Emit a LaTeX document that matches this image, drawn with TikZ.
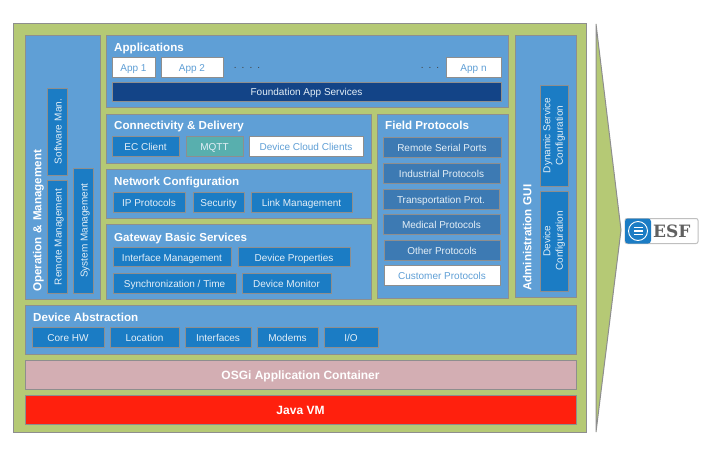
\documentclass[tikz,border=0pt]{standalone}
\usepackage{fontspec}
\setmainfont{Liberation Sans}
\newfontfamily\logofont{DejaVu Serif}
\usetikzlibrary{arrows.meta,positioning}
\definecolor{frameGreen}{HTML}{B5C975}
\definecolor{panelBlue}{HTML}{5F9FD6}
\definecolor{blockBlue}{HTML}{1B7CC4}
\definecolor{fieldBlue}{HTML}{3D7AB3}
\definecolor{darkBlue}{HTML}{134487}
\definecolor{mqttTeal}{HTML}{58AFAE}
\definecolor{osgiPink}{HTML}{D3AEB3}
\definecolor{javaRed}{HTML}{FF200D}
\definecolor{edgeGray}{HTML}{8E8E8E}
\definecolor{labelWhite}{HTML}{E4EFF7}
\tikzset{
    size/.style 2 args = {
        minimum width=#1pt,
        minimum height=#2pt,
        inner sep=0pt,
        outer sep=0pt,
        },
    frame/.style = {
        draw=edgeGray,
        fill=frameGreen,
        line width=1pt,
        },
    panel/.style = {
        draw=edgeGray,
        fill=panelBlue,
        line width=0.8pt,
        anchor=north west,
        },
    title/.style = {
        text=white,
        font=\fontsize{11.6}{13}\selectfont\bfseries,
        inner sep=0pt,
        anchor=west,
        text height=9.5pt,
        text depth=0pt,
        },
    tallblock/.style = {
        draw=edgeGray,
        fill=blockBlue,
        text=labelWhite,
        line width=0.8pt,
        font=\fontsize{10}{12.5}\selectfont,
        align=center,
        },
    block/.style = {
        tallblock,
        text height=9pt,
        text depth=0pt,
        },
    place/.style = {
        block,
        anchor=north west,
        },
    fieldblock/.style = {
        place,
        fill=fieldBlue,
        },
    appblock/.style = {
        place,
        fill=white,
        text=panelBlue,
        },
    bar/.style = {
        place,
        text=white,
        text height=9.5pt,
        font=\fontsize{12}{14}\selectfont\bfseries,
        },
    dots/.style = {
        text=black!75,
        font=\fontsize{10}{12}\selectfont,
        },
}
\begin{document}
\begin{tikzpicture}[x=1pt,y=-1pt]
    \useasboundingbox (0,0) rectangle (708,454);

    \node[frame, size={573}{408}, anchor=north west] (frame) at (13,24) {};
    \path[draw=edgeGray, fill=frameGreen, line width=1pt] (596,24) coordinate (tiptop) -- (621,230) coordinate (tip) -- (596,432) coordinate (tipbottom) -- cycle;

    % operation and management
    \node[panel, size={75}{264}] (operation) at (25,35) {};
    \node[title, rotate=90] (operationtitle) at (36.5,292) {Operation\,\,\&\,\,Management};
    \node[block, size={87}{20}, rotate=90] (software) at (57,131.5) {Software\,\,Man.};
    \node[block, size={113}{20}, rotate=90] (remote) at (57,237) {Remote Management};
    \node[block, size={125}{20}, rotate=90] (system) at (83,230.5) {System Management};

    % applications
    \node[panel, size={402}{72}] (applications) at (106,35) {};
    \node[title] (applicationstitle) at (114,47) {Applications};
    \node[appblock, size={43}{20}] (app1) at (112,57) {App 1};
    \node[appblock, size={62}{20}] (app2) at (161,57) {App 2};
    \node[appblock, size={55}{20}] (appn) at (446,57) {App n};
    \node[dots] (dotsleft) at (247,67.5) {.\,\,\,.\,\,\,.\,\,\,.};
    \node[dots] (dotsright) at (430,67.5) {.\,\,\,.\,\,\,.};
    \node[place, fill=darkBlue, size={389}{19}] (foundation) at (112,82) {Foundation App Services};

    % connectivity
    \node[panel, size={265}{49}] (connectivity) at (106,114) {};
    \node[title] (connectivitytitle) at (114,125) {Connectivity \& Delivery};
    \node[place, size={67}{20}] (ecclient) at (112,136) {EC Client};
    \node[place, fill=mqttTeal, size={57}{20}] (mqtt) at (186,136) {MQTT};
    \node[appblock, size={114}{20}] (cloud) at (249,136) {Device Cloud Clients};

    % network
    \node[panel, size={265}{49}] (network) at (106,169) {};
    \node[title] (networktitle) at (114,181) {Network Configuration};
    \node[place, size={72}{20}] (ip) at (113,192) {IP Protocols};
    \node[place, size={51}{20}] (security) at (193,192) {Security};
    \node[place, size={101}{20}] (link) at (251,192) {Link Management};

    % gateway
    \node[panel, size={265}{75}] (gateway) at (106,224) {};
    \node[title] (gatewaytitle) at (114,237) {Gateway Basic Services};
    \node[place, size={118}{19}] (interface) at (113,247) {Interface Management};
    \node[place, size={112}{19}] (properties) at (238,247) {Device Properties};
    \node[place, size={123}{20}] (sync) at (113,273) {Synchronization / Time};
    \node[place, size={89}{20}] (monitor) at (242,273) {Device Monitor};

    % field protocols
    \node[panel, size={131}{184}] (field) at (377,114.5) {};
    \node[title] (fieldtitle) at (385,125) {Field Protocols};
    \node[fieldblock, size={118}{20}] (serial) at (383,137) {Remote Serial Ports};
    \node[fieldblock, size={117}{20}] (industrial) at (383,163) {Industrial Protocols};
    \node[fieldblock, size={116}{20}] (transport) at (383,189) {Transportation Prot.};
    \node[fieldblock, size={117}{20}] (medical) at (383,214) {Medical Protocols};
    \node[fieldblock, size={116}{20}] (other) at (384,240) {Other Protocols};
    \node[appblock, size={116}{20}] (customer) at (384,265) {Customer Protocols};

    % administration
    \node[panel, size={61}{262}] (admin) at (515,35) {};
    \node[title, rotate=90] (admintitle) at (526.5,291) {Administration\,\,GUI};
    \node[tallblock, size={101}{28}, rotate=90] (dynamic) at (554,135.5) {Dynamic Service\\Configuration};
    \node[tallblock, size={100}{28}, rotate=90] (devconfig) at (554,241) {Device\\Configuration};

    % device abstraction
    \node[panel, size={551}{49}] (abstraction) at (25,305) {};
    \node[title] (abstractiontitle) at (33,317) {Device Abstraction};
    \node[place, size={72}{20}] (core) at (32,327) {Core HW};
    \node[place, size={69}{20}] (location) at (110,327) {Location};
    \node[place, size={66}{20}] (interfaces) at (185,327) {Interfaces};
    \node[place, size={61}{20}] (modems) at (257,327) {Modems};
    \node[place, size={54}{20}] (io) at (324,327) {I/O};

    % bottom bars
    \node[bar, fill=osgiPink, size={551}{29}] (osgi) at (25,360) {OSGi Application Container};
    \node[bar, fill=javaRed, size={551}{29}] (java) at (25,395) {Java VM};

    % logo
    \node[draw=black!25, fill=white, rounded corners=2pt, line width=1pt, size={73}{25}, anchor=north west] (logo) at (625,218.5) {};
    \node[fill=blockBlue, rounded corners=3pt, size={26}{25}, anchor=west] (logoblue) at (logo.west) {};
    \node[draw=white, fill=none, circle, line width=0.9pt, size={19}{19}] (logoring) at (logoblue.center) {};
    \node[fill=white, size={9}{1.3}] (logobar1) at ([yshift=-3.5pt]logoring.center) {};
    \node[fill=white, size={9}{1.3}] (logobar2) at (logoring.center) {};
    \node[fill=white, size={9}{1.3}] (logobar3) at ([yshift=3.5pt]logoring.center) {};
    \node[text=black!62, font=\logofont\fontsize{17}{17}\selectfont\bfseries, inner sep=0pt, anchor=west] (esf) at (653,231) {ESF};
\end{tikzpicture}
\end{document}
